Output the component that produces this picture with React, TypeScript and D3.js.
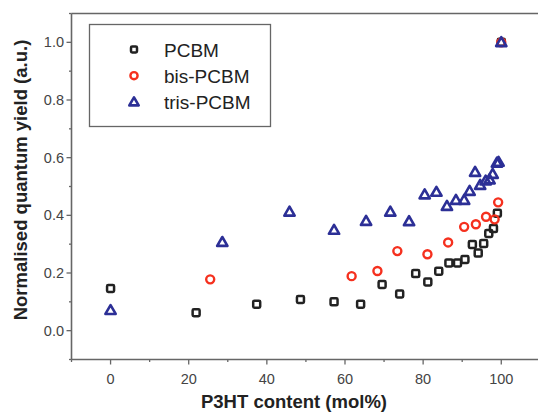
import React from "react";
import * as d3 from "d3";

const pcbmX = [0, 21.9, 37.4, 48.6, 57.2, 64.0, 69.5, 74.0, 78.1, 81.2, 84.0, 86.6, 88.8, 90.7, 92.6, 94.1, 95.5, 96.8, 98.0, 99.0, 100];
const pcbmY = [0.146, 0.062, 0.092, 0.108, 0.100, 0.092, 0.160, 0.127, 0.198, 0.169, 0.206, 0.235, 0.235, 0.247, 0.299, 0.269, 0.302, 0.337, 0.354, 0.407, 1.0];

const bisX = [25.5, 61.7, 68.3, 73.4, 81.1, 86.4, 90.5, 93.5, 96.1, 98.3, 99.2, 100];
const bisY = [0.178, 0.189, 0.207, 0.276, 0.265, 0.306, 0.360, 0.369, 0.395, 0.386, 0.445, 1.0];

const trisX = [0, 28.6, 45.8, 57.2, 65.4, 71.6, 76.4, 80.4, 83.4, 86.1, 88.4, 90.5, 91.9, 93.3, 94.6, 96.0, 97.0, 97.8, 98.9, 99.3, 100];
const trisY = [0.071, 0.307, 0.412, 0.349, 0.380, 0.412, 0.379, 0.472, 0.481, 0.432, 0.453, 0.453, 0.484, 0.550, 0.505, 0.520, 0.524, 0.543, 0.582, 0.585, 1.0];

const xTicks = [0, 20, 40, 60, 80, 100];
const yTicks = [0.0, 0.2, 0.4, 0.6, 0.8, 1.0];
const legendLabels = ["PCBM", "bis-PCBM", "tris-PCBM"];

const W = 538, H = 414;
const axisColor = "#666";
const colBlack = "#222";
const colRed = "#f5301e";
const colBlue = "#2c2f96";

export default function App() {
  const x = d3.scaleLinear().domain([-10, 115]).range([71.5, 71.5 + 125 * 3.907]);
  const y = d3.scaleLinear().domain([-0.1, 1.1]).range([359.5, 13.5]);
  const x0 = x(-10), y0 = y(-0.1), yTop = y(1.1);
  const xMinor = d3.range(-10, 116, 10).filter((v) => !xTicks.includes(v));
  const yMinor = d3.range(-0.1, 1.101, 0.1).map((v) => +v.toFixed(2)).filter((v) => !yTicks.some((t) => Math.abs(t - v) < 1e-6));
  const tri = d3.symbol().type(d3.symbolTriangle).size(46)();
  const triL = d3.symbol().type(d3.symbolTriangle).size(38)();
  const font = "'Liberation Sans', Arial, sans-serif";

  const square = (cx: number, cy: number, k: string, color: string, s = 7) => (
    <rect key={k} x={cx - s / 2} y={cy - s / 2} width={s} height={s} rx={1.2} fill="none" stroke={color} strokeWidth={2.5} />
  );
  const circle = (cx: number, cy: number, k: string, color: string, r = 4) => (
    <circle key={k} cx={cx} cy={cy} r={r} fill="none" stroke={color} strokeWidth={2.4} />
  );
  const triangle = (cx: number, cy: number, k: string, color: string, d = tri) => (
    <path key={k} d={d!} transform={`translate(${cx},${cy + 0.8})`} fill="none" stroke={color} strokeWidth={2.6} strokeLinejoin="round" />
  );

  return (
    <svg width={W} height={H} style={{ position: "absolute", left: 0, top: 0, background: "#fff" }} fontFamily={font}>
      {/* frame */}
      <line x1={x0} x2={W} y1={yTop} y2={yTop} stroke={axisColor} strokeWidth={1.6} />
      <line x1={x0} x2={W} y1={y0} y2={y0} stroke={axisColor} strokeWidth={1.6} />
      <line x1={x0} x2={x0} y1={yTop} y2={y0} stroke={axisColor} strokeWidth={1.6} />
      {/* x ticks */}
      {xTicks.map((t) => (
        <g key={"xt" + t}>
          <line x1={x(t)} x2={x(t)} y1={y0} y2={y0 + 5} stroke={axisColor} strokeWidth={1.3} />
          <text x={x(t)} y={384} fontSize={14.5} textAnchor="middle" fill="#444">{t}</text>
        </g>
      ))}
      {xMinor.map((t) => (
        <line key={"xm" + t} x1={x(t)} x2={x(t)} y1={y0} y2={y0 + 2.5} stroke={axisColor} strokeWidth={1.3} />
      ))}
      {/* y ticks */}
      {yTicks.map((t) => (
        <g key={"yt" + t}>
          <line x1={x0 - 5} x2={x0} y1={y(t)} y2={y(t)} stroke={axisColor} strokeWidth={1.3} />
          <text x={64} y={y(t) + 5} fontSize={14.5} textAnchor="end" fill="#444">{t.toFixed(1)}</text>
        </g>
      ))}
      {yMinor.map((t) => (
        <line key={"ym" + t} x1={x0 - 2.5} x2={x0} y1={y(t)} y2={y(t)} stroke={axisColor} strokeWidth={1.3} />
      ))}
      {/* titles */}
      <text x={294} y={408} fontSize={18.5} fontWeight="bold" textAnchor="middle" fill="#222">P3HT content (mol%)</text>
      <text transform="translate(27,180) rotate(-90)" fontSize={18.5} fontWeight="bold" textAnchor="middle" fill="#222">Normalised quantum yield (a.u.)</text>
      {/* data */}
      {pcbmX.map((v, i) => square(x(v), y(pcbmY[i]), "s" + i, colBlack))}
      {bisX.map((v, i) => circle(x(v), y(bisY[i]), "c" + i, colRed))}
      {trisX.map((v, i) => triangle(x(v), y(trisY[i]), "t" + i, colBlue))}
      {/* legend */}
      <rect x={89.5} y={24.5} width={181} height={102} fill="#fff" stroke={axisColor} strokeWidth={1.3} />
      {legendLabels.map((lab, i) => {
        const ly = 49.5 + i * 26.2;
        const m = i === 0 ? square(134, ly, "ls", colBlack, 6) : i === 1 ? circle(134, ly, "lc", colRed, 3.6) : triangle(134, ly, "lt", colBlue, triL);
        return (
          <g key={"lg" + i}>
            {m}
            <text x={164} y={ly + 7} fontSize={19} fill="#222">{lab}</text>
          </g>
        );
      })}
    </svg>
  );
}
